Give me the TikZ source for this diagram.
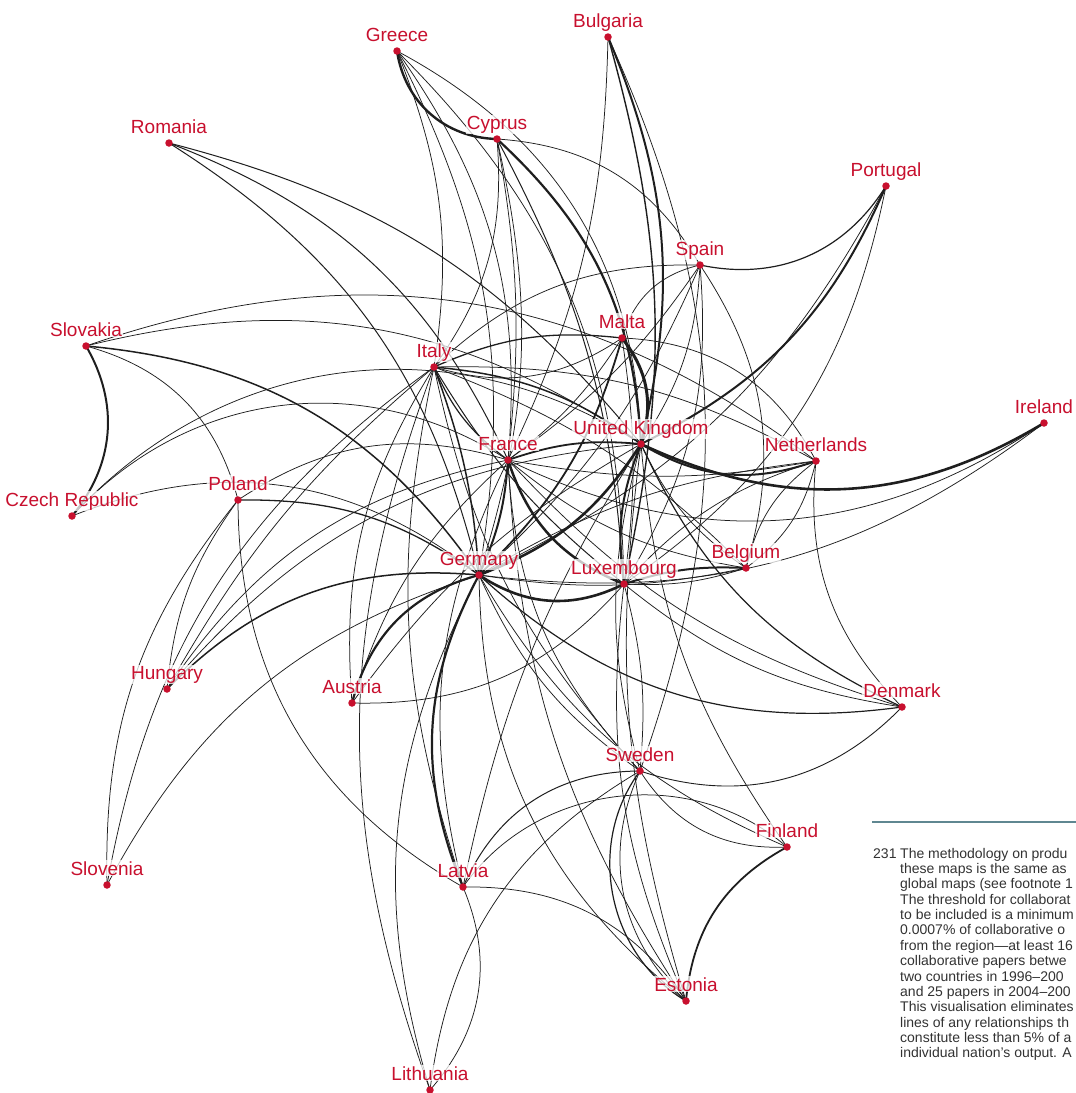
\documentclass[tikz,border=0pt]{standalone}
\usepackage{fontspec}
\setmainfont{Liberation Sans}
\usetikzlibrary{calc}
\definecolor{labred}{RGB}{200,16,46}
\definecolor{ink}{RGB}{30,30,30}
\definecolor{rulec}{RGB}{95,135,145}
\definecolor{foottext}{RGB}{50,50,50}
\begin{document}
\begin{tikzpicture}[x=1pt,y=-1pt,
  edge/.style={draw=ink},
  lab/.style={text=labred, fill=white, fill opacity=0.75, text opacity=1, inner sep=1pt, anchor=base, font=\fontsize{19}{22}\selectfont},
  dot/.style={circle, fill=labred, inner sep=0pt, minimum size=7.5pt},
  foot/.style={text=foottext, inner sep=0pt, anchor=base west, font=\fontsize{14}{15.4}\selectfont}]
\useasboundingbox (0,0) rectangle (1076,1093);
% positions
\foreach \n/\x/\y in {gr/397/51, bg/608/37, ro/169/143, cy/497/139, pt/886/186, es/700/265,
  sk/86/346, mt/622/338, it/434/367, ie/1044/423, uk/641/444, fr/508/460, nl/816/461,
  cz/72/516, pl/238/500, de/479/575, lu/624/584, be/746/568, hu/167/689, at/352/703,
  dk/902/707, se/640/771, fi/787/847, si/107/885, lv/463/887, ee/686/1001, lt/430/1090}
  {\coordinate (\n) at (\x,\y);}
% connectors
\foreach \a/\b/\c/\w in {
gr/cy/-40/2.4, gr/it/15/0.75, gr/fr/20/0.75, gr/de/18/0.75, gr/lu/22/0.75, gr/uk/30/0.75,
bg/fr/12/0.75, bg/uk/18/2.0, bg/lu/14/1.4, bg/se/22/0.75,
ro/fr/22/1.0, ro/uk/18/1.0, ro/de/22/1.0,
cy/uk/22/2.2, cy/fr/8/0.75, cy/de/15/0.75, cy/lu/12/1.0, cy/es/28/0.75, it/cy/-20/0.75,
es/pt/-35/1.2, pt/uk/20/2.0, pt/de/18/0.75, pt/lu/22/0.75,
es/it/-22/0.75, es/mt/-30/0.75, es/uk/15/0.75, es/fr/10/0.75, es/de/12/0.75, es/lu/18/0.75, es/be/25/0.75,
mt/uk/28/3.0, mt/it/-15/1.3, it/mt/-25/0.75, mt/fr/10/0.75, de/mt/-15/1.8, mt/nl/30/0.75, mt/lu/8/0.75,
sk/cz/35/2.0, sk/uk/24/0.75, sk/nl/28/0.75, sk/de/25/1.5, sk/pl/30/0.75,
cz/de/30/0.75, cz/fr/40/0.75, cz/uk/40/0.75,
pl/de/18/1.3, pl/lv/-30/0.75, pl/hu/-15/0.75, pl/si/-20/0.75, pl/fr/25/0.75,
hu/de/25/1.5, hu/fr/22/0.75, hu/uk/22/0.75, hu/it/10/0.75,
si/de/22/0.75, si/it/22/0.75,
at/de/30/2.2, at/lu/-25/0.75, at/it/18/0.75, at/fr/15/0.75, at/uk/12/0.75,
it/uk/15/1.5, it/nl/15/0.75, it/be/12/0.75, it/lu/-10/1.0, it/fr/-15/1.2, it/de/8/1.5,
it/se/-15/0.75, it/lv/-15/0.75, it/lt/-20/0.75,
fr/uk/12/1.8, fr/de/10/2.0, fr/lu/-25/2.5, fr/be/-15/0.75, fr/nl/-10/0.75, fr/ie/-30/0.75,
fr/dk/-15/0.75, fr/se/-20/0.75, fr/lv/-20/0.75, fr/ee/-15/0.75,
uk/ie/-28/2.6, uk/nl/-25/2.0, de/uk/-18/2.6, uk/lu/-15/2.0, uk/be/-15/0.75, uk/dk/-20/1.2,
uk/se/-15/0.75, uk/fi/-15/0.75, uk/ee/-12/0.75, uk/lv/-10/0.75,
de/lu/-30/2.6, de/lv/-25/2.2, de/lt/-22/0.75, de/ee/-25/0.75, de/se/-15/0.75, de/fi/-18/0.75,
de/dk/-25/1.2, de/nl/12/0.75, de/be/-10/0.75, de/ie/-22/0.75,
lu/be/10/2.0, lu/be/-10/0.75, lu/nl/15/0.75, lu/dk/-15/0.75, lu/se/10/0.75, lu/ee/-15/0.75,
nl/be/20/0.75, be/nl/20/0.75, nl/dk/-25/0.75,
se/dk/-32/0.9, se/ee/-48/1.2, se/ee/-36/0.75, se/fi/-30/0.75, lv/se/33/1.0, lt/se/26/0.75,
ee/fi/28/1.8, lv/fi/48/0.75, lv/lt/32/0.75, lv/ee/28/0.75}
  {\draw[edge, line width=\w pt] (\a) to[bend left=\c] (\b);}
% labels
\foreach \n/\t in {gr/Greece, bg/Bulgaria, ro/Romania, cy/Cyprus, pt/Portugal, es/Spain,
  sk/Slovakia, mt/Malta, it/Italy, ie/Ireland, uk/United Kingdom, fr/France, nl/Netherlands,
  cz/Czech Republic, pl/Poland, de/Germany, lu/Luxembourg, be/Belgium, hu/Hungary, at/Austria,
  dk/Denmark, se/Sweden, fi/Finland, si/Slovenia, lv/Latvia, ee/Estonia, lt/Lithuania}
  {\node[lab] (\n-l) at ($(\n)+(0,-10)$) {\t};}
\foreach \n in {gr, bg, ro, cy, pt, es, sk, mt, it, ie, uk, fr, nl, cz, pl, de, lu, be, hu, at, dk, se, fi, si, lv, ee, lt}
  {\node[dot] (\n-d) at (\n) {};}
% footnote
\draw[rulec, line width=1.4pt] (872,822) -- (1076,822);
\node[foot] (fnum) at (873,858) {231};
\foreach \t [count=\i from 0] in {The methodology on produ, these maps is the same as,
  global maps (see footnote 1, The threshold for collaborat, to be included is a minimum,
  0.0007\% of collaborative o, from the region—at least 16, collaborative papers betwe,
  two countries in 1996–200, and 25 papers in 2004–200, This visualisation eliminates,
  lines of any relationships th, constitute less than 5\% of a, individual nation’s output. A}
  {\node[foot] (f\i) at (900,858+15.38*\i) {\t};}
\end{tikzpicture}
\end{document}
